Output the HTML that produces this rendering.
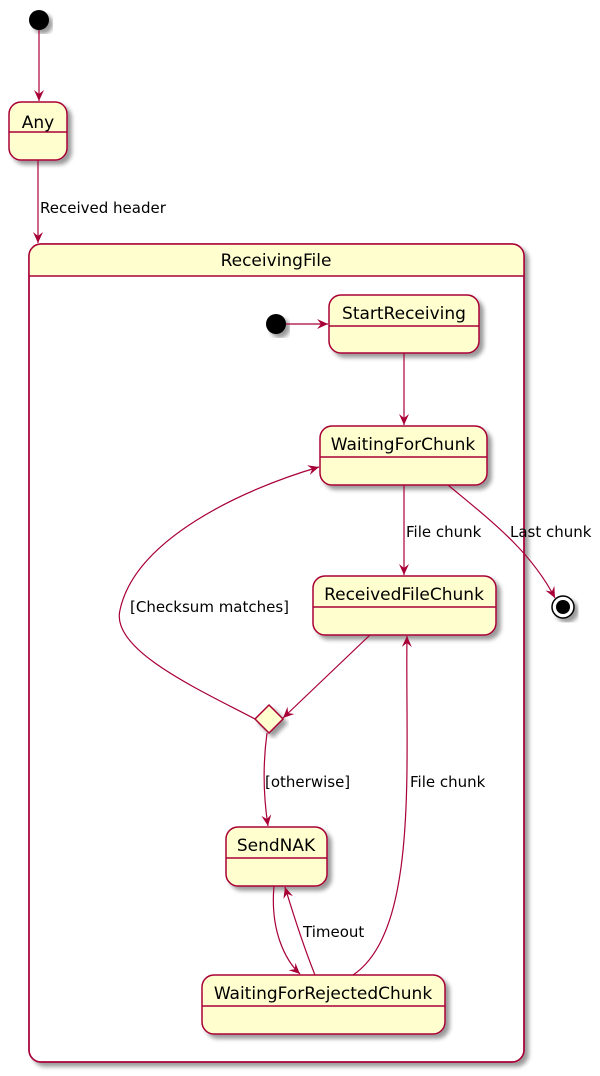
<!DOCTYPE html>
<html><head><meta charset="utf-8"><style>
html,body{margin:0;padding:0;background:#fff;}
svg{display:block;}
text{font-family:"DejaVu Sans","Liberation Sans",sans-serif;}
</style></head><body>
<svg width="600" height="1076" viewBox="0 0 600 1076" xmlns="http://www.w3.org/2000/svg">
<defs>
<filter id="sh" x="-10%" y="-10%" width="130%" height="130%"><feGaussianBlur in="SourceAlpha" stdDeviation="2"/><feOffset dx="4" dy="4"/><feComponentTransfer><feFuncA type="linear" slope="0.4"/></feComponentTransfer><feMerge><feMergeNode/><feMergeNode in="SourceGraphic"/></feMerge></filter>
<marker id="ar" markerWidth="12" markerHeight="12" refX="11" refY="6" orient="auto" markerUnits="userSpaceOnUse"><path d="M0,1 L11,6 L0,11 L4,6 Z" fill="#A80036"/></marker>
</defs>
<g stroke="#A80036" stroke-width="1.5" fill="#FEFECE">
<circle cx="39" cy="20" r="10" fill="#000" stroke="none" filter="url(#sh)"/>
<rect x="9" y="102" width="58" height="58" rx="12" filter="url(#sh)"/>
<line x1="9" y1="132" x2="67" y2="132"/>
<!-- ReceivingFile -->
<rect x="29" y="244" width="495" height="818" rx="12" fill="#fff" filter="url(#sh)"/>
<path d="M29,276 L29,256 Q29,244 41,244 L512,244 Q524,244 524,256 L524,276 Z" stroke="none"/>
<rect x="29" y="244" width="495" height="818" rx="12" fill="none"/>
<line x1="29" y1="276" x2="524" y2="276"/>
<circle cx="276" cy="324" r="10" fill="#000" stroke="none" filter="url(#sh)"/>
<rect x="329" y="295" width="150" height="58" rx="12" filter="url(#sh)"/>
<line x1="329" y1="326" x2="479" y2="326"/>
<rect x="320" y="426" width="167" height="59" rx="12" filter="url(#sh)"/>
<line x1="320" y1="457" x2="487" y2="457"/>
<rect x="313" y="576" width="183" height="59" rx="12" filter="url(#sh)"/>
<line x1="313" y1="607" x2="496" y2="607"/>
<polygon points="269,705 283,719 269,733 255,719" filter="url(#sh)"/>
<rect x="226" y="827" width="101" height="59" rx="12" filter="url(#sh)"/>
<line x1="226" y1="858" x2="327" y2="858"/>
<rect x="202" y="975" width="243" height="59" rx="12" filter="url(#sh)"/>
<line x1="202" y1="1006" x2="445" y2="1006"/>
<circle cx="563" cy="607" r="11" fill="#fff" stroke="#000" filter="url(#sh)"/>
<circle cx="563" cy="607" r="7" fill="#000" stroke="none"/>
</g>
<g stroke="#A80036" stroke-width="1.2" fill="none" marker-end="url(#ar)">
<line x1="39" y1="30" x2="39" y2="101"/>
<line x1="38" y1="160" x2="38" y2="243"/>
<line x1="286" y1="324" x2="328" y2="324"/>
<line x1="404" y1="353" x2="404" y2="425"/>
<line x1="404" y1="485" x2="404" y2="575"/>
<path d="M448,485 C490,520 530,550 555,598"/>
<line x1="370" y1="635" x2="283" y2="718"/>
<path d="M255,719 C200,690 110,650 120,610 C135,540 240,490 319,467"/>
<path d="M267,733 C262,770 264,800 268,826"/>
<path d="M274,886 C270,930 285,960 300,974"/>
<path d="M315,975 C305,950 295,920 285,887"/>
<path d="M353,975 C420,930 405,760 407,636"/>
</g>
<g font-size="17" fill="#000" text-anchor="middle">
<text x="38" y="128">Any</text>
<text x="276" y="266">ReceivingFile</text>
<text x="404" y="319">StartReceiving</text>
<text x="403" y="450">WaitingForChunk</text>
<text x="404" y="600">ReceivedFileChunk</text>
<text x="276" y="851">SendNAK</text>
<text x="323" y="999">WaitingForRejectedChunk</text>
</g>
<g font-size="15" fill="#000">
<text x="40" y="213">Received header</text>
<text x="406" y="537">File chunk</text>
<text x="510" y="537">Last chunk</text>
<text x="130" y="612">[Checksum matches]</text>
<text x="265" y="787">[otherwise]</text>
<text x="410" y="787">File chunk</text>
<text x="303" y="937">Timeout</text>
</g>
</svg>
</body></html>
